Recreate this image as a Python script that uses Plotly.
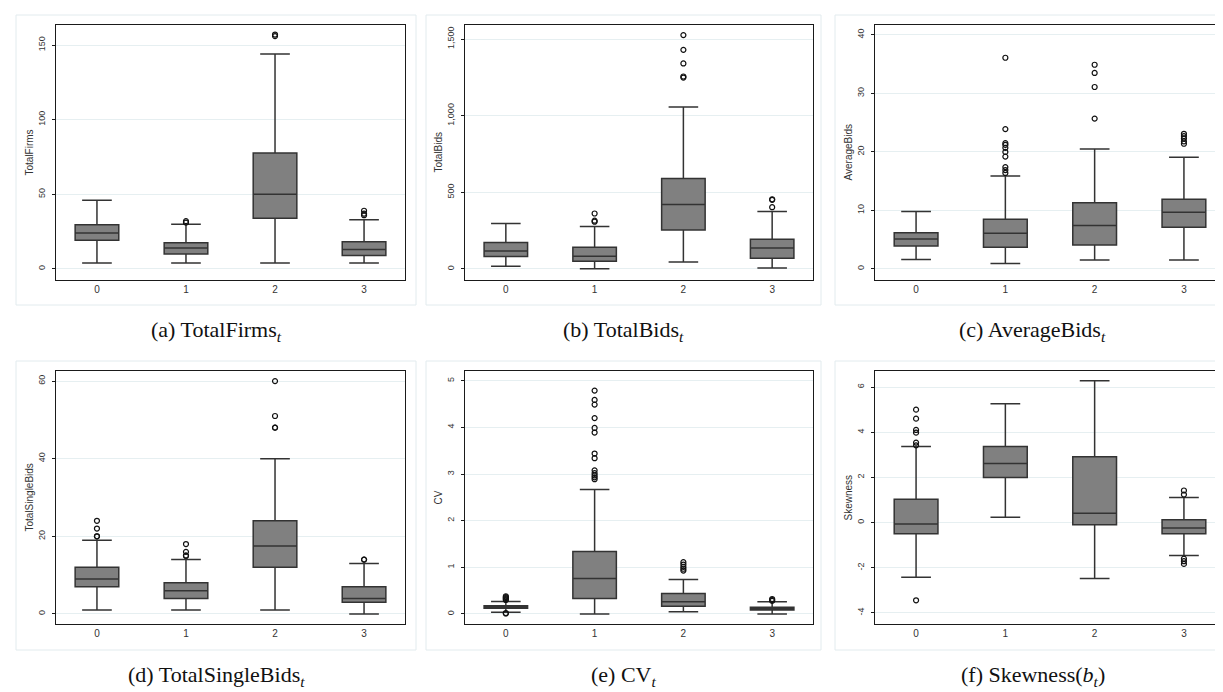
import plotly.graph_objects as go

W, H = 1223, 692

groups = [0, 1, 2, 3]

# (a) TotalFirms
firms_lo = [4, 4, 4, 4]
firms_q1 = [19.2, 10, 34, 9]
firms_med = [24, 14, 50, 13]
firms_q3 = [29.6, 17.6, 77.6, 18.3]
firms_hi = [46, 30, 144, 33]
firms_out = [[], [31, 32], [156, 157], [36, 37, 39]]

# (b) TotalBids
bids_lo = [17, 2, 46, 7]
bids_q1 = [81, 50, 255, 70]
bids_med = [118, 83, 421, 137]
bids_q3 = [172, 142, 591, 194]
bids_hi = [296, 277, 1057, 375]
bids_out = [[], [308, 315, 362], [1249, 1256, 1341, 1430, 1526], [403, 451, 455]]

# (c) AverageBids
avg_lo = [1.6, 0.9, 1.5, 1.5]
avg_q1 = [3.9, 3.7, 4.1, 7.1]
avg_med = [5.1, 6.1, 7.4, 9.7]
avg_q3 = [6.2, 8.5, 11.3, 11.9]
avg_hi = [9.8, 15.9, 20.5, 19.1]
avg_out = [[], [16.4, 16.9, 17.4, 19.2, 20.0, 20.7, 21.2, 21.5, 23.9, 36.1],
           [25.7, 31.1, 33.5, 34.9], [21.4, 21.8, 22.3, 22.7, 23.1]]

# (d) TotalSingleBids
single_lo = [1, 1, 1, 0]
single_q1 = [7, 4, 12, 3]
single_med = [9, 6, 17.5, 4]
single_q3 = [12, 8, 24, 7]
single_hi = [19, 14, 40, 13]
single_out = [[20, 20, 22, 24], [15, 15, 16, 18], [48, 48, 51, 60], [14, 14]]

# (e) CV
cv_lo = [0.036, 0.0, 0.05, 0.0]
cv_q1 = [0.125, 0.33, 0.165, 0.085]
cv_med = [0.15, 0.76, 0.26, 0.11]
cv_q3 = [0.175, 1.34, 0.44, 0.145]
cv_hi = [0.27, 2.67, 0.74, 0.26]
cv_out = [[0.01, 0.02, 0.30, 0.32, 0.34, 0.36, 0.38],
          [2.89, 2.93, 2.97, 3.02, 3.08, 3.34, 3.44, 3.89, 3.99, 4.2, 4.49, 4.59, 4.79],
          [0.93, 0.97, 1.01, 1.06, 1.11], [0.28, 0.30, 0.32]]

# (f) Skewness
skew_lo = [-2.42, 0.24, -2.48, -1.46]
skew_q1 = [-0.5, 2.0, -0.1, -0.5]
skew_med = [-0.06, 2.61, 0.41, -0.24]
skew_q3 = [1.03, 3.37, 2.91, 0.12]
skew_hi = [3.37, 5.26, 6.28, 1.11]
skew_out = [[-3.44, 3.42, 3.54, 3.98, 4.1, 4.6, 5.0], [], [], [-1.83, -1.71, -1.6, 1.24, 1.42]]

y_titles = ["TotalFirms", "TotalBids", "AverageBids", "TotalSingleBids", "CV", "Skewness"]
captions = ["(a) TotalFirms<sub><i>t</i></sub>", "(b) TotalBids<sub><i>t</i></sub>",
            "(c) AverageBids<sub><i>t</i></sub>", "(d) TotalSingleBids<sub><i>t</i></sub>",
            "(e) CV<sub><i>t</i></sub>", "(f) Skewness(<i>b<sub>t</sub></i>)"]

firms_ticks = [0, 50, 100, 150]
firms_ticktext = ["0", "50", "100", "150"]
bids_ticks = [0, 500, 1000, 1500]
bids_ticktext = ["0", "500", "1,000", "1,500"]
avg_ticks = [0, 10, 20, 30, 40]
avg_ticktext = ["0", "10", "20", "30", "40"]
single_ticks = [0, 20, 40, 60]
single_ticktext = ["0", "20", "40", "60"]
cv_ticks = [0, 1, 2, 3, 4, 5]
cv_ticktext = ["0", "1", "2", "3", "4", "5"]
skew_ticks = [-4, -2, 0, 2, 4, 6]
skew_ticktext = ["-4", "-2", "0", "2", "4", "6"]
x_ticktext = ["0", "1", "2", "3"]

panels = [
    (firms_lo, firms_q1, firms_med, firms_q3, firms_hi, firms_out, firms_ticks, firms_ticktext, [-7.4, 163.4]),
    (bids_lo, bids_q1, bids_med, bids_q3, bids_hi, bids_out, bids_ticks, bids_ticktext, [-72, 1592]),
    (avg_lo, avg_q1, avg_med, avg_q3, avg_hi, avg_out, avg_ticks, avg_ticktext, [-1.9, 41.7]),
    (single_lo, single_q1, single_med, single_q3, single_hi, single_out, single_ticks, single_ticktext, [-2.6, 62.6]),
    (cv_lo, cv_q1, cv_med, cv_q3, cv_hi, cv_out, cv_ticks, cv_ticktext, [-0.215, 5.21]),
    (skew_lo, skew_q1, skew_med, skew_q3, skew_hi, skew_out, skew_ticks, skew_ticktext, [-4.49, 6.71]),
]

# layout geometry in pixels
plot_x = [(48, 397), (457, 805), (867, 1217)]
plot_y = [(17, 272), (363, 616)]
frame_x = [(8, 408), (418, 813), (827, 1222)]
frame_y = [(7, 297), (353, 642)]
caption_y = [323, 668]


def px(x):
    return x / W


def py(y):
    return 1 - y / H


fig = go.Figure()
layout = dict(
    template="none",
    width=W, height=H, margin=dict(l=0, r=0, t=0, b=0),
    paper_bgcolor="white", plot_bgcolor="white", showlegend=False,
    font=dict(family="Liberation Sans, Arial, sans-serif", size=9, color="#333"),
)
shapes = []
annotations = []

for i, (lo, q1, med, q3, hi, outs, tv, tt, yr) in enumerate(panels):
    r, c = divmod(i, 3)
    n = "" if i == 0 else str(i + 1)
    xa, ya = "x" + n, "y" + n
    fig.add_trace(go.Box(
        x=groups, q1=q1, median=med, q3=q3, lowerfence=lo, upperfence=hi,
        boxpoints=False, width=0.49, whiskerwidth=0.68,
        fillcolor="#808080", line=dict(color="#333333", width=1.5),
        xaxis=xa, yaxis=ya, hoverinfo="skip",
    ))
    ox, oy = [], []
    for g, vals in zip(groups, outs):
        for v in vals:
            ox.append(g)
            oy.append(v)
    fig.add_trace(go.Scatter(
        x=ox, y=oy, mode="markers", xaxis=xa, yaxis=ya,
        marker=dict(symbol="circle-open", size=5, color="#111", line=dict(width=1.2)),
        hoverinfo="skip",
    ))
    x0, x1 = plot_x[c]
    y0, y1 = plot_y[r]
    layout["xaxis" + n] = dict(
        domain=[px(x0), px(x1)], anchor=ya, range=[-0.46, 3.46],
        tickvals=groups, ticktext=x_ticktext, ticks="", showgrid=False, zeroline=False,
        showline=True, mirror=True, linecolor="#1a1a1a", linewidth=1.2,
        tickfont=dict(size=10, color="#333"),
    )
    layout["yaxis" + n] = dict(
        domain=[py(y1), py(y0)], anchor=xa, range=yr,
        tickvals=tv, ticktext=tt, tickangle=-90, ticks="outside", ticklen=3,
        ticklabelstandoff=3,
        tickcolor="#1a1a1a", showgrid=True, gridcolor="#e6eff1", gridwidth=1,
        zeroline=False, showline=True, mirror=True, linecolor="#1a1a1a", linewidth=1.2,
        tickfont=dict(size=9, color="#333"),
    )
    fx0, fx1 = frame_x[c]
    fy0, fy1 = frame_y[r]
    shapes.append(dict(type="rect", xref="paper", yref="paper",
                       x0=px(fx0), x1=px(fx1), y0=py(fy1), y1=py(fy0),
                       line=dict(color="#e2ebee", width=1), layer="below"))
    annotations.append(dict(
        text=y_titles[i], xref="paper", yref="paper", x=px(x0 - 27), y=py((y0 + y1) / 2),
        textangle=-90, showarrow=False, xanchor="center", yanchor="middle",
        font=dict(size=10, color="#333", family="Liberation Sans, Arial, sans-serif"),
    ))
    annotations.append(dict(
        text=captions[i], xref="paper", yref="paper", x=px((fx0 + fx1) / 2), y=py(caption_y[r]),
        showarrow=False, xanchor="center", yanchor="middle",
        font=dict(size=22, color="#111", family="Liberation Serif, Times New Roman, serif"),
    ))

layout["shapes"] = shapes
layout["annotations"] = annotations
fig.update_layout(**layout)
fig.write_html("out.html")
